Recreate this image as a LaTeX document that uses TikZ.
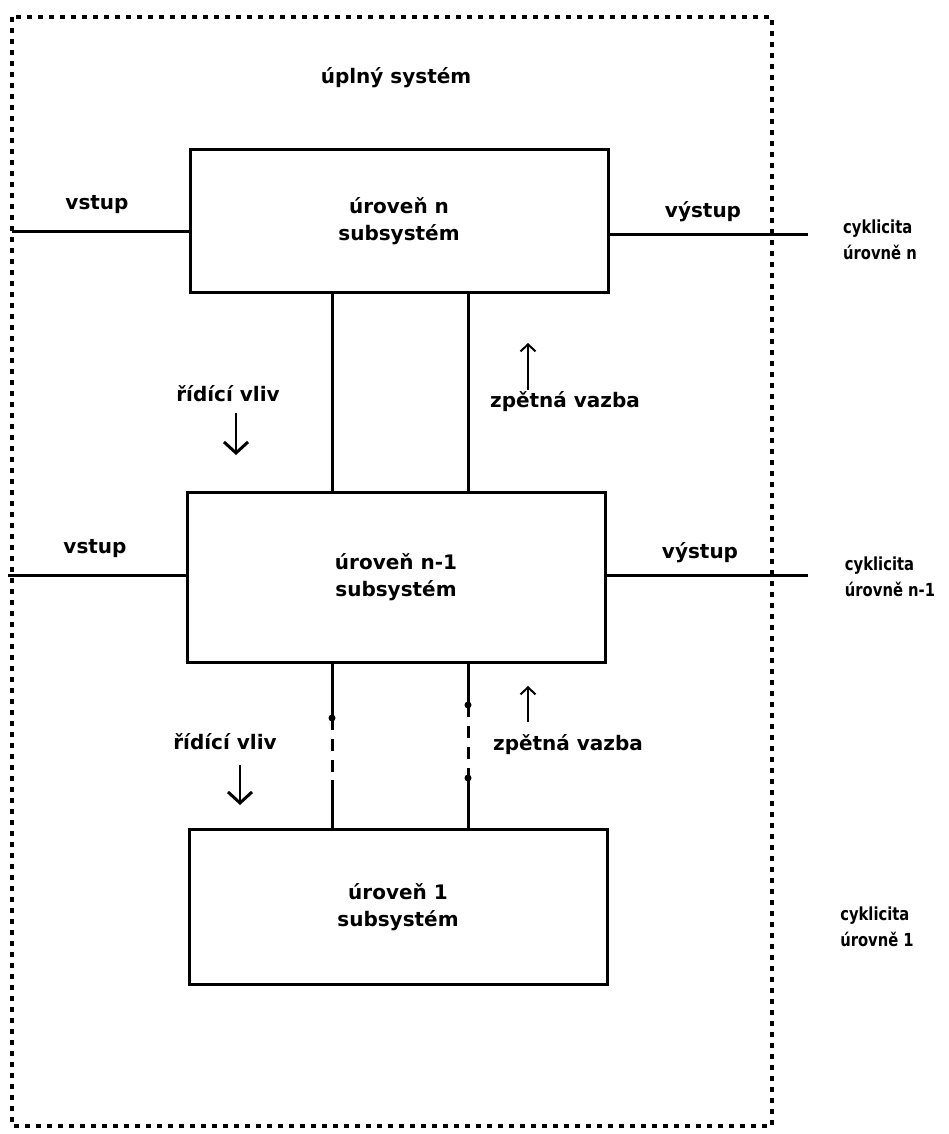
\documentclass[tikz,border=0pt]{standalone}
\usepackage{fontspec}
\setmainfont{DejaVu Sans}
\usetikzlibrary{arrows.meta}
\newcommand{\cyk}[2]{\scalebox{0.82}[1]{\begin{tabular}{@{}l@{}}#1\\#2\end{tabular}}}
\begin{document}
\begin{tikzpicture}[x=1pt,y=-1pt,
  lvlbox/.style={draw,line width=3pt,minimum width=418pt,minimum height=142pt,align=center,inner sep=0pt,font=\bfseries\fontsize{20}{27}\selectfont},
  lbl/.style={font=\bfseries\fontsize{20}{24}\selectfont,inner sep=0pt},
  lbl2/.style={font=\bfseries\fontsize{18}{26}\selectfont,inner sep=0pt},
  frame/.style={line width=3.5pt,dash pattern=on 5pt off 6pt},
  wire/.style={line width=3pt},
  ctrl/.style={line width=1.5pt,-{Straight Barb[length=11pt,width=24pt,line width=3pt]}},
  fb/.style={line width=1.5pt,-{Straight Barb[length=7pt,width=15pt,line width=2pt]}},
  dotend/.style={circle,fill,inner sep=0pt,minimum size=7pt}]
\useasboundingbox (0,0) rectangle (949,1134);
% outer frame
\draw[frame] (12,17) rectangle (772,1126);
\node[lbl] (title) at (396,78) {úplný systém};
% boxes
\node[lvlbox] (bn) at (399,221) {úroveň n\\subsystém};
\node[lvlbox,minimum height=170pt] (bn1) at (396,577) {úroveň n-1\\subsystém};
\node[lvlbox,minimum height=155pt] (b1) at (398,907) {úroveň 1\\subsystém};
% inputs / outputs
\coordinate (in1) at (12,231);
\coordinate (out1) at (808,234);
\coordinate (in2) at (8,575);
\coordinate (out2) at (808,575);
\draw[wire] (in1) -- (in1 -| bn.west);
\draw[wire] (bn.east |- out1) -- (out1);
\draw[wire] (in2) -- (in2 -| bn1.west);
\draw[wire] (bn1.east |- out2) -- (out2);
\node[lbl] (vin1) at (97,205) {vstup};
\node[lbl] (vout1) at (703,212) {výstup};
\node[lbl] (vin2) at (95,549) {vstup};
\node[lbl] (vout2) at (700,553) {výstup};
\node[lbl2] (cn) at (880,241) {\cyk{cyklicita}{úrovně n}};
\node[lbl2] (cn1) at (890,578) {\cyk{cyklicita}{úrovně n-1}};
\node[lbl2] (c1) at (877,928) {\cyk{cyklicita}{úrovně 1}};
% links n <-> n-1
\draw[wire] (bn.south -| 332,0) -- (bn1.north -| 332,0);
\draw[wire] (bn.south -| 468,0) -- (bn1.north -| 468,0);
% links n-1 <-> 1 (broken)
\coordinate (la) at (332,718);
\coordinate (lb) at (332,780);
\coordinate (ra) at (468,705);
\coordinate (rb) at (468,778);
\draw[wire] (bn1.south -| la) -- (la);
\draw[wire,dash pattern=on 12pt off 9pt] (la) -- (lb);
\draw[wire] (lb) -- (b1.north -| lb);
\draw[wire] (bn1.south -| ra) -- (ra);
\draw[wire,dash pattern=on 12pt off 9pt] (ra) -- (rb);
\draw[wire] (rb) -- (b1.north -| rb);
\node[dotend] (dla) at (la) {};
\node[dotend] (dra) at (ra) {};
\node[dotend] (drb) at (rb) {};
% control / feedback labels and arrows
\node[lbl] (ctl1) at (228,394) {řídící vliv};
\node[lbl] (fbl1) at (565,402) {zpětná vazba};
\draw[ctrl] (236,413) -- (236,455);
\draw[fb] (528,390) -- (528,343);
\node[lbl] (ctl2) at (225,742) {řídící vliv};
\node[lbl] (fbl2) at (568,745) {zpětná vazba};
\draw[ctrl] (240,765) -- (240,805);
\draw[fb] (528,722) -- (528,686);
\end{tikzpicture}
\end{document}
